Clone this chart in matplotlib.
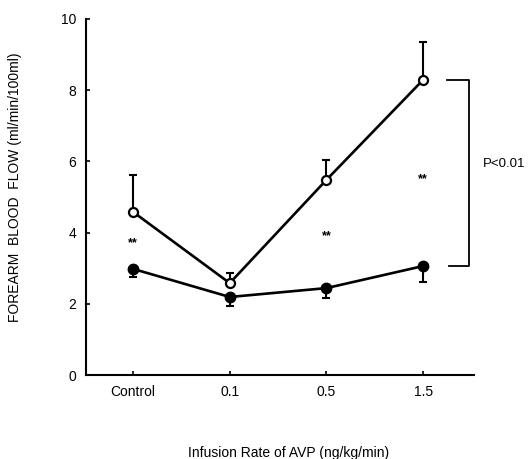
import numpy as np
import matplotlib
matplotlib.use('Agg')
import matplotlib.pyplot as plt

plt.rcParams['font.family'] = ['Liberation Sans', 'DejaVu Sans']

categories = ['Control', '0.1', '0.5', '1.5']
open_mean = [4.58, 2.58, 5.48, 8.29]
open_err = [1.04, 0.29, 0.56, 1.06]
filled_mean = [2.98, 2.19, 2.44, 3.06]
filled_err = [0.23, 0.25, 0.28, 0.45]
star_y = [3.7, None, 3.9, 5.5]

x = np.arange(len(categories))

fig = plt.figure(figsize=(5.28, 4.59), dpi=100)
ax = fig.add_axes([0.163, 0.183, 0.735, 0.776])

# error bars (open: up only, filled: down only)
ax.errorbar(x, open_mean, yerr=[np.zeros(4), open_err], fmt='none',
            ecolor='black', elinewidth=1.5, capsize=3, capthick=1.5, zorder=2)
ax.errorbar(x, filled_mean, yerr=[filled_err, np.zeros(4)], fmt='none',
            ecolor='black', elinewidth=1.5, capsize=3, capthick=1.5, zorder=2)

ax.plot(x, open_mean, '-o', color='black', lw=1.9, ms=6.5,
        mfc='white', mec='black', mew=1.6, zorder=3)
ax.plot(x, filled_mean, '-o', color='black', lw=1.9, ms=7.5,
        mfc='black', mec='black', zorder=3)

for xi, sy in zip(x, star_y):
    if sy is not None:
        ax.text(xi, sy, '**', ha='center', va='center', fontsize=9, fontweight='bold')

# significance bracket
ax.plot([3.25, 3.47, 3.47, 3.27], [open_mean[3], open_mean[3], filled_mean[3], filled_mean[3]],
        color='black', lw=1.3, clip_on=False)
ax.text(3.62, 5.93, 'P<0.01', ha='left', va='center', fontsize=9.5, clip_on=False)

ax.set_xlim(-0.485, 3.526)
ax.set_ylim(0, 10)
ax.set_yticks([0, 2, 4, 6, 8, 10])
ax.set_xticks(x)
ax.set_xticklabels(categories)
ax.tick_params(direction='in', length=3, width=1.2, labelsize=10, pad=7)
ax.spines['top'].set_visible(False)
ax.spines['right'].set_visible(False)
ax.spines['left'].set_linewidth(1.5)
ax.spines['bottom'].set_linewidth(1.5)

ax.set_ylabel('FOREARM  BLOOD  FLOW (ml/min/100ml)', fontsize=10)
ax.yaxis.set_label_coords(-0.165, 0.527)
fig.text(0.546, 0.013, 'Infusion Rate of AVP (ng/kg/min)', ha='center', va='center', fontsize=10)

fig.savefig('out.png', dpi=100)
